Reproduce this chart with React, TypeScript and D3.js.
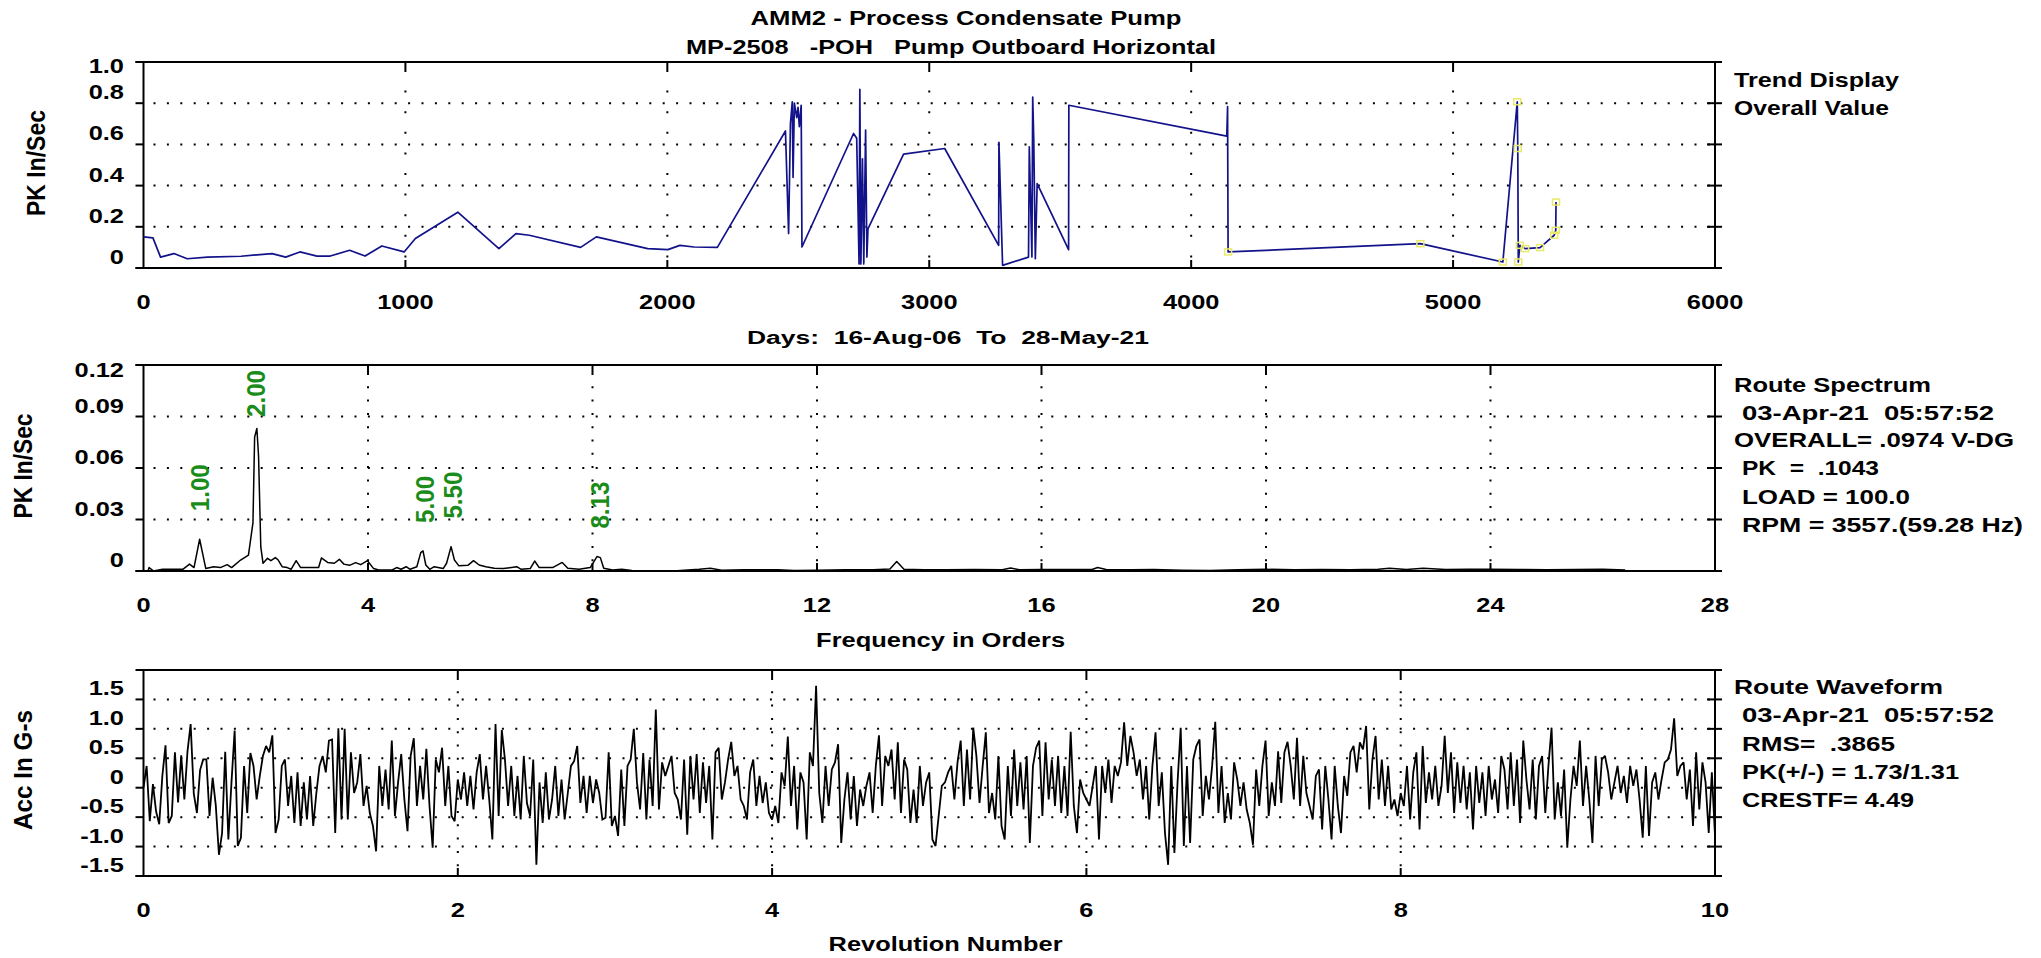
import React from 'react';
import * as d3 from 'd3';

const W = 2041;
const H = 958;
const PL = 143.5;
const PR = 1715;
const FONT = "'Liberation Sans', Arial, Helvetica, sans-serif";
const SX = 1.27;

// ---------- Trend display (days vs PK In/Sec) ----------
const trendDays = [0, 36, 65, 116, 167, 244, 372, 491, 543, 597, 662, 713, 787, 846, 910, 995, 1038, 1200, 1357, 1422, 1473, 1669, 1729, 1925, 2002, 2048, 2102, 2191, 2451, 2463, 2470, 2477, 2480, 2485, 2494, 2499, 2504, 2511, 2514, 2711, 2723, 2732, 2735, 2739, 2745, 2750, 2757, 2762, 2766, 2902, 3059, 3265, 3266, 3280, 3379, 3382, 3392, 3395, 3399, 3405, 3412, 3532, 3533, 4136, 4139, 4141, 4875, 5190, 5245, 5247, 5249, 5255, 5275, 5332, 5386, 5392, 5393];
const trendValues = [0.151, 0.146, 0.053, 0.07, 0.045, 0.053, 0.057, 0.07, 0.053, 0.078, 0.058, 0.058, 0.086, 0.058, 0.107, 0.078, 0.143, 0.271, 0.094, 0.167, 0.159, 0.1, 0.151, 0.094, 0.089, 0.11, 0.102, 0.1, 0.665, 0.167, 0.70, 0.807, 0.44, 0.80, 0.73, 0.78, 0.686, 0.79, 0.102, 0.653, 0.63, 0.02, 0.867, 0.02, 0.53, 0.02, 0.67, 0.053, 0.19, 0.553, 0.58, 0.11, 0.61, 0.013, 0.053, 0.588, 0.053, 0.83, 0.62, 0.045, 0.41, 0.089, 0.79, 0.64, 0.783, 0.078, 0.118, 0.029, 0.807, 0.58, 0.029, 0.11, 0.094, 0.099, 0.159, 0.183, 0.32];
const trendMarkerFromDay = 4141;
const trendXTicks = [0, 1000, 2000, 3000, 4000, 5000, 6000];
const trendYTicks = [0, 0.2, 0.4, 0.6, 0.8, 1.0];
const trendYLabels = ['0', '0.2', '0.4', '0.6', '0.8', '1.0'];

// ---------- Route spectrum (orders vs PK In/Sec) ----------
const specOrders = [0.08, 0.10, 0.18, 0.34, 0.70, 0.82, 0.90, 1.0, 1.11, 1.25, 1.37, 1.49, 1.57, 1.73, 1.87, 1.95, 1.98, 2.02, 2.05, 2.09, 2.13, 2.21, 2.27, 2.35, 2.40, 2.47, 2.56, 2.63, 2.72, 2.80, 3.0, 3.12, 3.17, 3.28, 3.40, 3.49, 3.57, 3.67, 3.78, 3.87, 3.99, 4.10, 4.19, 4.43, 4.51, 4.59, 4.68, 4.75, 4.87, 4.94, 4.98, 5.03, 5.10, 5.18, 5.34, 5.40, 5.48, 5.54, 5.62, 5.78, 5.88, 5.98, 6.10, 6.25, 6.41, 6.65, 6.73, 6.89, 6.97, 7.05, 7.29, 7.46, 7.56, 7.76, 7.96, 8.08, 8.14, 8.20, 8.36, 8.52, 8.63, 8.7, 9.5, 9.9, 10.1, 10.3, 10.7, 11.0, 11.3, 11.6, 12.0, 12.5, 13.0, 13.3, 13.42, 13.55, 13.9, 14.3, 14.8, 15.3, 15.45, 15.6, 16.0, 16.5, 16.9, 17.0, 17.15, 17.6, 18.0, 18.5, 19.0, 19.5, 20.0, 20.5, 21.0, 21.5, 22.0, 22.2, 22.5, 22.8, 23.2, 23.6, 24.0, 24.5, 25.0, 25.5, 26.0, 26.4];
const specValues = [0.0, 0.002, 0.0, 0.001, 0.001, 0.004, 0.002, 0.0185, 0.0014, 0.0025, 0.002, 0.0037, 0.002, 0.0064, 0.0093, 0.028, 0.078, 0.083, 0.067, 0.014, 0.0045, 0.0074, 0.006, 0.0078, 0.0064, 0.0025, 0.002, 0.001, 0.006, 0.002, 0.002, 0.002, 0.0076, 0.005, 0.0045, 0.0068, 0.004, 0.0033, 0.0049, 0.0037, 0.006, 0.0014, 0.0006, 0.0006, 0.002, 0.001, 0.0025, 0.001, 0.0025, 0.0107, 0.0117, 0.0035, 0.001, 0.0025, 0.0014, 0.0045, 0.0142, 0.0064, 0.003, 0.0033, 0.006, 0.0035, 0.0025, 0.0016, 0.0014, 0.0025, 0.001, 0.0014, 0.0058, 0.002, 0.002, 0.005, 0.0016, 0.001, 0.002, 0.0084, 0.0078, 0.0016, 0.0006, 0.001, 0.0006, 0.0003, 0.0002, 0.001, 0.0016, 0.0004, 0.0008, 0.0007, 0.0008, 0.0003, 0.0005, 0.0008, 0.0007, 0.0012, 0.0055, 0.001, 0.0008, 0.0007, 0.0009, 0.0007, 0.0018, 0.0008, 0.0009, 0.0009, 0.0009, 0.002, 0.0009, 0.0008, 0.0009, 0.0005, 0.0003, 0.0008, 0.001, 0.0007, 0.0009, 0.0008, 0.001, 0.0016, 0.0009, 0.0016, 0.0009, 0.001, 0.001, 0.0009, 0.0008, 0.0009, 0.001, 0.0006];
const peakOrders = [1.0, 2.0, 5.0, 5.5, 8.13];
const peakValues = [0.0185, 0.083, 0.0117, 0.0142, 0.0084];
const peakLabels = ['1.00', '2.00', '5.00', '5.50', '8.13'];
const specXTicks = [0, 4, 8, 12, 16, 20, 24, 28];
const specYTicks = [0, 0.03, 0.06, 0.09, 0.12];
const specYLabels = ['0', '0.03', '0.06', '0.09', '0.12'];

// ---------- Route waveform (revolutions vs Acc In G-s), 501 samples over 10 revs ----------
const waveRevs = 10;
const waveValues = [
  0.0, 0.37, -0.57, 0.06, -0.4,
  -0.62, 0.2, 0.72, -0.6, -0.48,
  0.6, -0.25, 0.55, -0.2, 0.62,
  1.08, -0.1, -0.43, 0.3, 0.48,
  0.48, -0.48, 0.17, -0.3, -1.14,
  -0.77, 0.61, -0.88, 0.1, 0.97,
  -0.99, -0.85, 0.37, -0.43, 0.59,
  0.37, -0.2, 0.2, 0.54, 0.71,
  0.6, 0.89, -0.77, -0.54, 0.37,
  0.48, -0.31, 0.2, -0.6, 0.26,
  -0.65, 0.09, -0.54, 0.2, -0.65,
  -0.09, 0.37, 0.54, 0.26, 0.8,
  0.82, -0.77, 1.01, -0.54, 1.0,
  -0.54, 0.6, -0.09, 0.09, 0.57,
  -0.31, 0.03, -0.43, -0.65, -1.08,
  0.37, -0.31, 0.31, -0.37, 0.8,
  -0.48, 0.09, 0.57, -0.2, -0.74,
  0.54, 0.84, -0.31, 0.37, -0.2,
  0.66, -0.31, -1.02, 0.48, 0.26,
  0.68, -0.31, 0.37, -0.48, -0.57,
  0.14, -0.2, 0.26, -0.31, 0.2,
  -0.37, 0.26, 0.57, -0.2, 0.37,
  -0.2, -0.88, 1.08, -0.48, 0.98,
  0.48, -0.31, 0.37, -0.48, 0.2,
  -0.54, 0.54, -0.26, -0.48, 0.48,
  -1.31, 0.09, -0.6, 0.26, -0.54,
  -0.2, 0.37, -0.48, 0.14, -0.54,
  -0.09, 0.37, 0.45, 0.71, -0.26,
  0.2, -0.43, 0.2, -0.26, 0.14,
  -0.09, -0.54, -0.51, 0.6, -0.65,
  -0.48, -0.82, 0.31, -0.65, 0.37,
  0.48, 1.0, 0.09, -0.37, 0.59,
  -0.54, 0.48, -0.31, 1.33, -0.37,
  0.43, 0.2, 0.37, 0.54, -0.09,
  -0.2, -0.54, 0.48, -0.8, 0.54,
  -0.2, 0.57, -0.43, 0.43, -0.26,
  0.37, -0.88, 0.6, 0.68, -0.2,
  0.09, 0.48, 0.78, 0.2, 0.37,
  -0.2, -0.31, -0.54, 0.26, 0.48,
  -0.31, 0.2, -0.26, 0.09, -0.43,
  -0.54, -0.31, -0.6, 0.26, 0.03,
  0.87, -0.31, 0.37, -0.71, 0.26,
  0.09, -0.88, 0.6, 0.37, 1.73,
  -0.09, -0.6, 0.37, -0.31, 0.31,
  0.43, 0.74, -0.94, -0.2, 0.26,
  -0.54, 0.2, -0.65, -0.03, -0.31,
  0.03, 0.26, -0.43, 0.37, 0.89,
  -0.31, 0.54, 0.37, 0.65, -0.2,
  0.77, -0.43, 0.48, 0.31, -0.6,
  -0.03, -0.6, 0.37, -0.31, 0.09,
  0.26, -0.88, -0.99, -0.48, 0.03,
  0.09, 0.26, 0.37, -0.2, 0.43,
  0.8, -0.31, 0.65, -0.2, 1.02,
  0.54, -0.26, 0.37, 0.94, -0.43,
  -0.09, -0.54, 0.54, -0.65, -0.88,
  0.37, -0.48, 0.65, -0.31, 0.43,
  -0.37, 0.54, -0.94, 0.37, 0.68,
  0.8, -0.48, 0.77, -0.2, 0.48,
  -0.31, 0.54, -0.43, 0.37, -0.48,
  0.95, -0.31, -0.77, 0.14, -0.09,
  -0.2, -0.31, 0.03, 0.37, -0.88,
  0.37, -0.09, 0.48, -0.26, 0.37,
  0.2, 0.43, 1.11, 0.37, 0.88,
  0.6, 0.2, 0.48, -0.2, 0.37,
  -0.54, 0.37, 0.94, -0.31, 0.26,
  -0.77, -1.31, 0.37, -1.11, 0.09,
  1.02, -0.99, 0.37, -0.94, 0.48,
  0.71, 0.82, -0.48, 0.2, -0.2,
  0.37, 1.12, -0.43, 0.37, -0.6,
  -0.09, -0.54, 0.43, 0.14, -0.31,
  0.09, -0.37, -0.6, -0.97, 0.31,
  -0.31, 0.37, 0.8, -0.48, 0.09,
  -0.31, 0.62, -0.26, 0.6, 0.78,
  0.37, -0.2, 0.85, -0.31, 0.54,
  -0.09, -0.31, -0.54, 0.2, 0.31,
  -0.71, 0.37, -0.2, -0.88, 0.37,
  -0.31, -0.77, 0.2, -0.14, 0.6,
  0.71, 0.26, 0.77, 0.65, 1.05,
  -0.37, 0.48, 0.88, -0.2, 0.48,
  -0.31, 0.37, -0.37, -0.2, -0.48,
  -0.09, -0.31, 0.37, -0.54, 0.26,
  0.6, -0.71, 0.71, -0.26, 0.26,
  -0.2, 0.37, -0.31, 0.03, 0.88,
  -0.09, 0.6, -0.43, 0.43, -0.26,
  0.37, -0.37, 0.26, -0.71, 0.37,
  -0.26, 0.26, -0.48, 0.37, -0.2,
  0.14, -0.43, 0.54, 0.31, -0.37,
  0.6, -0.31, 0.48, -0.6, 0.8,
  0.14, -0.37, 0.48, -0.54, 0.37,
  0.54, -0.43, 0.37, 1.02, -0.54,
  0.09, -0.48, 0.31, -1.02, -0.2,
  0.37, 0.03, 0.8, -0.31, 0.37,
  -0.2, -0.94, 0.54, -0.31, 0.48,
  0.54, 0.26, -0.2, 0.09, 0.37,
  -0.09, 0.2, -0.26, 0.37, 0.03,
  0.31, -0.2, -0.85, 0.37, -0.82,
  0.09, 0.26, -0.2, 0.14, 0.43,
  0.48, 0.65, 1.18, 0.2, 0.37,
  0.43, -0.2, 0.31, -0.65, 0.6,
  -0.37, 0.43, 0.09, -0.77, 0.26,
  -0.82,
];
const waveXTicks = [0, 2, 4, 6, 8, 10];
const waveYTicks = [-1.5, -1.0, -0.5, 0, 0.5, 1.0, 1.5];
const waveYLabels = ['-1.5', '-1.0', '-0.5', '0', '0.5', '1.0', '1.5'];

// ---------- Texts ----------
const titleLine1 = 'AMM2 - Process Condensate Pump';
const titleLine2 = 'MP-2508   -POH   Pump Outboard Horizontal';
const trendXTitle = 'Days:  16-Aug-06  To  28-May-21';
const specXTitle = 'Frequency in Orders';
const waveXTitle = 'Revolution Number';
const trendInfo = ['Trend Display', 'Overall Value'];
const specInfo = ['Route Spectrum', '03-Apr-21  05:57:52', 'OVERALL= .0974 V-DG', 'PK  =  .1043', 'LOAD = 100.0', 'RPM = 3557.(59.28 Hz)'];
const waveInfo = ['Route Waveform', '03-Apr-21  05:57:52', 'RMS=  .3865', 'PK(+/-) = 1.73/1.31', 'CRESTF= 4.49'];

function SText({ x, y, anchor = 'middle', size = 20, weight = 'bold', fill = '#000', children }: any) {
  return (
    <text
      transform={`translate(${x},${y}) scale(${SX},1)`}
      textAnchor={anchor}
      fontSize={size}
      fontWeight={weight}
      fill={fill}
      fontFamily={FONT}
      style={{ whiteSpace: 'pre' }}
    >
      {children}
    </text>
  );
}

function LText({ x, y, len, size = 20, anchor = 'start', children }: any) {
  return (
    <text
      x={x}
      y={y}
      textLength={len}
      lengthAdjust="spacingAndGlyphs"
      textAnchor={anchor}
      fontSize={size}
      fontWeight="bold"
      fontFamily={FONT}
      fill="#000"
      style={{ whiteSpace: 'pre' }}
    >
      {children}
    </text>
  );
}

function VText({ x, y, len, size = 20, anchor = 'middle', weight = 'bold', fill = '#000', children }: any) {
  return (
    <text
      transform={`translate(${x},${y}) scale(${SX},1) rotate(-90)`}
      textLength={len}
      lengthAdjust="spacingAndGlyphs"
      textAnchor={anchor}
      fontSize={size}
      fontWeight={weight}
      fill={fill}
      fontFamily={FONT}
    >
      {children}
    </text>
  );
}

function Frame({ x, y, xTicks, yTicks, yLabels, vDash, topLabelOffset }: any) {
  const [top, bottom] = [y.range()[1], y.range()[0]];
  const innerY = yTicks.filter((t: number) => y(t) > top + 1 && y(t) < bottom - 1);
  const innerX = xTicks.filter((t: number) => x(t) > PL + 1 && x(t) < PR - 1);
  return (
    <g>
      {innerY.map((t: number) => (
        <line key={'hg' + t} x1={PL + 10} x2={PR} y1={y(t)} y2={y(t)} stroke="#000" strokeWidth={2} strokeDasharray="2 11.4" />
      ))}
      {innerX.map((t: number) => (
        <line key={'vg' + t} x1={x(t)} x2={x(t)} y1={top + 8} y2={bottom} stroke="#000" strokeWidth={2} strokeDasharray={vDash} />
      ))}
      <line x1={PL - 8} x2={PR + 7} y1={top} y2={top} stroke="#000" strokeWidth={2} />
      <line x1={PL - 8} x2={PR + 7} y1={bottom} y2={bottom} stroke="#000" strokeWidth={2.2} />
      <line x1={PL} x2={PL} y1={top} y2={bottom} stroke="#000" strokeWidth={2} />
      <line x1={PR} x2={PR} y1={top} y2={bottom} stroke="#000" strokeWidth={2} />
      {yTicks.map((t: number) => (
        <g key={'yt' + t}>
          <line x1={PL - 8} x2={PL} y1={y(t)} y2={y(t)} stroke="#000" strokeWidth={2} />
          <line x1={PR - 8} x2={PR + 7} y1={y(t)} y2={y(t)} stroke="#000" strokeWidth={2} />
        </g>
      ))}
      {innerX.map((t: number) => (
        <g key={'xt' + t}>
          <line x1={x(t)} x2={x(t)} y1={top} y2={top + 8} stroke="#000" strokeWidth={2} />
          <line x1={x(t)} x2={x(t)} y1={bottom - 8} y2={bottom} stroke="#000" strokeWidth={2} />
        </g>
      ))}
      {yTicks.map((t: number, i: number) => {
        const yy = y(t) < top + 1 ? top + topLabelOffset : y(t) - 4;
        return (
          <SText key={'yl' + t} x={124} y={yy} anchor="end">
            {yLabels[i]}
          </SText>
        );
      })}
      {xTicks.map((t: number) => (
        <SText key={'xl' + t} x={x(t)} y={bottom + 41}>
          {String(t)}
        </SText>
      ))}
    </g>
  );
}

export default function App() {
  const tx = d3.scaleLinear().domain([0, 6000]).range([PL, PR]);
  const ty = d3.scaleLinear().domain([0, 1.0]).range([268, 62]);
  const trendPts = trendDays.map((d, i) => [d, trendValues[i]] as [number, number]);
  const trendPath = d3.line<[number, number]>().x((d) => tx(d[0])).y((d) => ty(d[1]))(trendPts) || '';

  const sx = d3.scaleLinear().domain([0, 28]).range([PL, PR]);
  const sy = d3.scaleLinear().domain([0, 0.12]).range([571, 365]);
  const specPts = specOrders.map((o, i) => [o, specValues[i]] as [number, number]);
  const specPath = d3.line<[number, number]>().x((d) => sx(d[0])).y((d) => sy(d[1]))(specPts) || '';

  const wx = d3.scaleLinear().domain([0, waveRevs]).range([PL, PR]);
  const wy = d3.scaleLinear().domain([-1.5, 2.0]).range([876, 670]);
  const dt = waveRevs / (waveValues.length - 1);
  const wavePath = d3
    .line<number>()
    .x((_, i) => wx(i * dt))
    .y((v) => wy(v))(waveValues) || '';

  return (
    <svg width={W} height={H} viewBox={`0 0 ${W} ${H}`} style={{ position: 'absolute', left: 0, top: 0, background: '#fff' }}>
      <rect x={0} y={0} width={W} height={H} fill="#fff" />

      <LText x={966} y={25} len={431} anchor="middle">{titleLine1}</LText>
      <LText x={951} y={54} len={530} anchor="middle">{titleLine2}</LText>

      {/* Trend */}
      <Frame x={tx} y={ty} xTicks={trendXTicks} yTicks={trendYTicks} yLabels={trendYLabels} vDash="2 18.6" topLabelOffset={11} />
      <path d={trendPath} fill="none" stroke="#12128a" strokeWidth={1.7} strokeLinejoin="round" />
      {trendPts
        .filter((d) => d[0] >= trendMarkerFromDay)
        .map((d, i) => (
          <rect key={'mk' + i} x={tx(d[0]) - 3.5} y={ty(d[1]) - 3} width={7} height={6} fill="none" stroke="#e9e96a" strokeWidth={1.5} />
        ))}
      <VText x={44.6} y={163} len={106} size={20}>PK In/Sec</VText>
      <LText x={948} y={344} len={402} size={18} anchor="middle">{trendXTitle}</LText>
      <LText x={1734} y={87} len={165} size={21}>{trendInfo[0]}</LText>
      <LText x={1734} y={115} len={155} size={21}>{trendInfo[1]}</LText>

      {/* Spectrum */}
      <Frame x={sx} y={sy} xTicks={specXTicks} yTicks={specYTicks} yLabels={specYLabels} vDash="2 11.3" topLabelOffset={12} />
      <path d={specPath} fill="none" stroke="#000" strokeWidth={1.5} strokeLinejoin="round" />
      {peakOrders.map((o, i) => {
        const len = 47;
        const bottomY = Math.max(sy(peakValues[i]) - 28, 365 + 5 + len);
        return (
          <VText key={'pk' + i} x={sx(o) + 9.5} y={bottomY} len={len} size={20} anchor="start" weight="bold" fill="#1a8c1a">
            {peakLabels[i]}
          </VText>
        );
      })}
      <VText x={32} y={466} len={105} size={21}>PK In/Sec</VText>
      <LText x={940.6} y={646.7} len={249} size={20} anchor="middle">{specXTitle}</LText>
      <LText x={1734} y={392.3} len={197} size={21}>{specInfo[0]}</LText>
      <LText x={1742} y={420} len={252} size={21}>{specInfo[1]}</LText>
      <LText x={1734} y={447.3} len={280} size={21}>{specInfo[2]}</LText>
      <LText x={1742} y={475.3} len={137} size={21}>{specInfo[3]}</LText>
      <LText x={1742} y={504} len={168} size={21}>{specInfo[4]}</LText>
      <LText x={1742} y={531.7} len={281} size={21}>{specInfo[5]}</LText>

      {/* Waveform */}
      <Frame x={wx} y={wy} xTicks={waveXTicks} yTicks={waveYTicks} yLabels={waveYLabels} vDash="2 11.3" topLabelOffset={11} />
      <path d={wavePath} fill="none" stroke="#000" strokeWidth={1.8} strokeLinejoin="miter" strokeMiterlimit={2} />
      <VText x={32} y={770} len={120} size={21}>Acc In G-s</VText>
      <LText x={945.6} y={951} len={234} size={20} anchor="middle">{waveXTitle}</LText>
      <LText x={1734} y={694.3} len={209} size={21}>{waveInfo[0]}</LText>
      <LText x={1742} y={722.3} len={252} size={21}>{waveInfo[1]}</LText>
      <LText x={1742} y={750.7} len={153} size={21}>{waveInfo[2]}</LText>
      <LText x={1742} y={779.3} len={217} size={21}>{waveInfo[3]}</LText>
      <LText x={1742} y={806.7} len={172} size={21}>{waveInfo[4]}</LText>
    </svg>
  );
}
